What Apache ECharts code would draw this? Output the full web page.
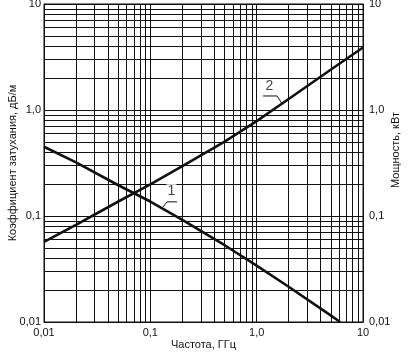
<!DOCTYPE html>
<html>
<head>
<meta charset="utf-8">
<script src="https://cdn.jsdelivr.net/npm/echarts@6/dist/echarts.min.js"></script>
<style>
  html, body { margin: 0; padding: 0; background: #fff; }
  #chart { width: 411px; height: 353px; }
</style>
</head>
<body>
<div id="chart"></div>
<script>
const chart = echarts.init(document.getElementById("chart"));

// frequency, GHz
const FREQ_1 = [0.01, 0.02, 0.05, 0.1, 0.2, 0.5, 1, 2, 5, 6.1];
// curve 1: attenuation, dB/m
const ATTEN = [0.45, 0.32, 0.195, 0.137, 0.092, 0.053, 0.034, 0.0215, 0.0115, 0.01];
const FREQ_2 = [0.01, 0.02, 0.05, 0.1, 0.2, 0.5, 1, 2, 5, 10];
// curve 2: power, kW
const POWER = [0.057, 0.0826, 0.137, 0.199, 0.295, 0.503, 0.785, 1.27, 2.41, 3.89];

// leader lines for the curve labels ([freq, value])
const LEADER_1 = [[0.132, 0.122], [0.1435, 0.136], [0.178, 0.136]];
const LEADER_2 = [[1.73, 1.15], [1.556, 1.356], [1.148, 1.356]];
const LABEL_POS = [[0.158, 0.172, "1"], [1.315, 1.68, "2"]];

const TICK_LABELS = ["0,01", "0,1", "1,0", "10"];
const MINOR_STEPS = [2, 3, 4, 5, 6, 7, 8, 9];
const DECADES = [0.01, 0.1, 1];

const INK = "#111";
const FONT = "Liberation Sans";

const minorVals = [];
DECADES.forEach(d => MINOR_STEPS.forEach(m => minorVals.push(+(d * m).toPrecision(3))));

function tickLabel(v) {
  const i = Math.round(Math.log10(v)) + 2;
  return TICK_LABELS[i] ?? "";
}

const pair = (xs, ys) => xs.map((x, i) => [x, ys[i]]);

const yBase = {
  type: "log",
  logBase: 10,
  min: 0.01,
  max: 10,
  nameLocation: "middle",
  nameRotate: 90,
  nameMoveOverlap: false,
  nameTextStyle: { fontFamily: FONT, fontSize: 11, color: INK },
  axisLine: { show: true, lineStyle: { color: INK, width: 1 } },
  axisTick: { show: false },
  axisLabel: { fontFamily: FONT, fontSize: 11, color: INK, margin: 3, formatter: tickLabel }
};

chart.setOption({
  animation: false,
  grid: {
    left: 44, right: 48, top: 4, bottom: 31,
    containLabel: false,
    outerBoundsMode: "none",
    show: true, borderColor: INK, borderWidth: 1
  },
  xAxis: {
    type: "log",
    logBase: 10,
    min: 0.01,
    max: 10,
    name: "Частота, ГГц",
    nameLocation: "middle",
    nameMoveOverlap: false,
    nameGap: 17,
    nameTextStyle: { fontFamily: FONT, fontSize: 11, color: INK },
    axisLine: { lineStyle: { color: INK, width: 1 } },
    axisTick: { show: false },
    axisLabel: { fontFamily: FONT, fontSize: 11, color: INK, margin: 5, formatter: tickLabel },
    splitLine: { show: true, lineStyle: { color: INK, width: 1 } }
  },
  yAxis: [
    Object.assign({}, yBase, {
      position: "left",
      name: "Коэффициент затухания, дБ/м",
      nameGap: 26,
      splitLine: { show: true, lineStyle: { color: INK, width: 1 } }
    }),
    Object.assign({}, yBase, {
      position: "right",
      name: "Мощность, кВт",
      nameGap: 27,
      nameTextStyle: { fontFamily: FONT, fontSize: 11, color: INK, padding: [0, 0, 0, 26] },
      axisLabel: { fontFamily: FONT, fontSize: 11, color: INK, margin: 6, formatter: tickLabel },
      splitLine: { show: false }
    })
  ],
  series: [
    {
      type: "line",
      silent: true,
      data: [],
      markLine: {
        silent: true,
        symbol: ["none", "none"],
        label: { show: false },
        lineStyle: { color: INK, width: 1, type: "solid" },
        data: minorVals.map(v => ({ xAxis: v })).concat(minorVals.map(v => ({ yAxis: v })))
      }
    },
    {
      name: "1",
      type: "line",
      showSymbol: false,
      data: pair(FREQ_1, ATTEN),
      lineStyle: { color: INK, width: 2.6 },
      z: 5
    },
    {
      name: "2",
      type: "line",
      showSymbol: false,
      data: pair(FREQ_2, POWER),
      lineStyle: { color: INK, width: 2.6 },
      z: 5
    },
    {
      type: "line",
      showSymbol: false,
      data: LEADER_1,
      lineStyle: { color: INK, width: 1 },
      z: 5
    },
    {
      type: "line",
      showSymbol: false,
      data: LEADER_2,
      lineStyle: { color: INK, width: 1 },
      z: 5
    },
    {
      type: "scatter",
      symbolSize: 0,
      data: LABEL_POS.map(p => ({ value: [p[0], p[1]], name: p[2] })),
      label: {
        show: true,
        position: "inside",
        formatter: "{b}",
        fontFamily: FONT,
        fontSize: 14,
        color: INK,
        backgroundColor: "#fff",
        padding: [0, 1]
      },
      z: 6
    }
  ]
});
</script>
</body>
</html>
